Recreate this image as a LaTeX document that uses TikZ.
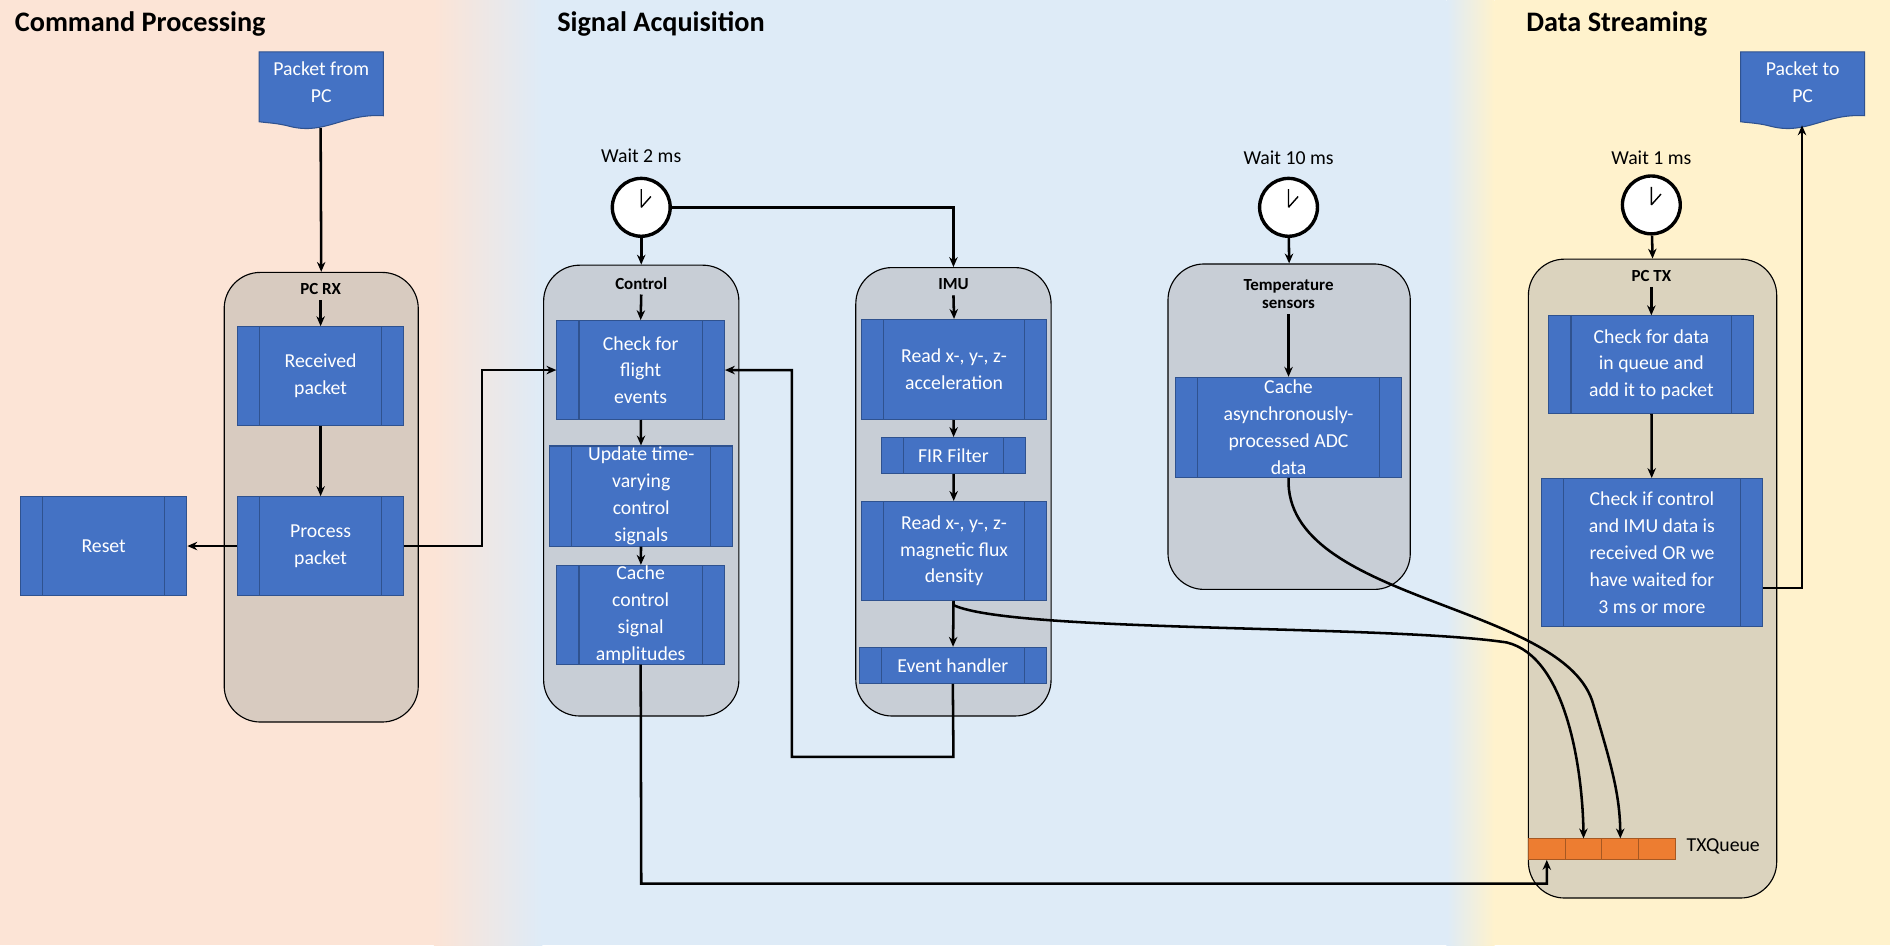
\documentclass[tikz,border=0pt]{standalone}
\usepackage{fontspec}
\setmainfont{Carlito}
\usetikzlibrary{arrows.meta}
\definecolor{peach}{RGB}{252,228,214}
\definecolor{paleblue}{RGB}{222,235,247}
\definecolor{paleyellow}{RGB}{255,242,204}
\definecolor{boxblue}{RGB}{68,114,196}
\definecolor{boxedge}{RGB}{47,82,143}
\definecolor{rxfill}{RGB}{216,203,192}
\definecolor{sigfill}{RGB}{200,206,214}
\definecolor{txfill}{RGB}{219,211,190}
\definecolor{qorange}{RGB}{237,125,49}
\tikzset{every picture/.style={line width=0.75pt}}

\begin{document}
\begin{tikzpicture}[x=0.03cm,y=-0.03cm,
    proc/.style={rectangle,fill=boxblue,draw=boxedge,text=white,align=center,
        font=\fontsize{14}{19}\selectfont,inner sep=0pt,
        path picture={\draw[boxedge]
            ([xshift=0.55cm]path picture bounding box.north west) -- ([xshift=0.55cm]path picture bounding box.south west)
            ([xshift=-0.55cm]path picture bounding box.north east) -- ([xshift=-0.55cm]path picture bounding box.south east);}},
    group/.style={rectangle,rounded corners=0.9cm,draw=black,line width=0.8pt},
    gtitle/.style={font=\bfseries\fontsize{12}{15}\selectfont,align=center},
    title/.style={font=\bfseries\fontsize{20}{24}\selectfont,anchor=west},
    wait/.style={font=\fontsize{14}{17}\selectfont},
    clock/.style={circle,draw=black,line width=2.4pt,fill=white,minimum size=1.44cm,inner sep=0pt},
    doc/.style={fill=boxblue,draw=boxedge},
    flow/.style={-{Stealth[length=7pt,width=6pt]},line width=1.8pt},
    cell/.style={rectangle,fill=qorange,draw=qorange!70!black,minimum width=0.915cm,minimum height=0.51cm,inner sep=0pt}]

    % background
    \fill[peach] (0,0) rectangle (360,784);
    \shade[left color=peach,right color=paleblue] (360,0) rectangle (450,784);
    \fill[paleblue] (450,0) rectangle (1200,784);
    \shade[left color=paleblue,right color=paleyellow] (1200,0) rectangle (1240,784);
    \fill[paleyellow] (1240,0) rectangle (1568,784);
    \useasboundingbox (0,0) rectangle (1568,784);

    \node[title] at (8,20) {Command Processing};
    \node[title] at (458,20) {Signal Acquisition};
    \node[title] at (1262,20) {Data Streaming};

    % containers
    \node[group,fill=rxfill,minimum width=4.83cm,minimum height=11.19cm] (rx) at (266.5,412.5) {};
    \node[group,fill=sigfill,minimum width=4.86cm,minimum height=11.22cm] (ctl) at (532,407) {};
    \node[group,fill=sigfill,minimum width=4.86cm,minimum height=11.16cm] (imu) at (791,408) {};
    \node[group,fill=sigfill,minimum width=6.03cm,minimum height=8.1cm] (temp) at (1069.5,354) {};
    \node[group,fill=txfill,minimum width=6.18cm,minimum height=15.9cm] (tx) at (1371,480) {};

    \node[gtitle] (rxt) at (266,240) {PC RX};
    \node[gtitle] (ctlt) at (532,235) {Control};
    \node[gtitle] (imut) at (791,236) {IMU};
    \node[gtitle] (tempt) at (1069,244) {Temperature\\[-2pt]sensors};
    \node[gtitle] (txt) at (1370,229) {PC TX};

    % documents
    \fill[doc] (215,43) -- (318,43) -- (318,96) .. controls (285,94) and (270,112) .. (241,105) .. controls (230,102) and (222,102) .. (215,101) -- cycle;
    \node[text=white,align=center,font=\fontsize{14}{19}\selectfont] (pcin) at (266.5,68) {Packet from\\PC};
    \coordinate (pcinb) at (266,106);
    \fill[doc] (1444,43) -- (1547,43) -- (1547,96) .. controls (1514,94) and (1499,112) .. (1470,105) .. controls (1459,102) and (1451,102) .. (1444,101) -- cycle;
    \node[text=white,align=center,font=\fontsize{14}{19}\selectfont] (pcout) at (1495.5,68) {Packet to\\PC};
    \coordinate (pcoutb) at (1495,104);

    % boxes
    \node[proc,minimum width=4.14cm,minimum height=2.46cm] (recv) at (266,312) {Received\\packet};
    \node[proc,minimum width=4.14cm,minimum height=2.46cm] (procp) at (266,453) {Process\\packet};
    \node[proc,minimum width=4.14cm,minimum height=2.46cm] (reset) at (86,453) {Reset};

    \node[proc,minimum width=4.17cm,minimum height=2.46cm] (check) at (531.5,307) {Check for\\flight\\events};
    \node[proc,minimum width=4.56cm,minimum height=2.49cm] (update) at (532,411.5) {Update time-\\varying\\control\\signals};
    \node[proc,minimum width=4.17cm,minimum height=2.46cm] (cache) at (531.5,510) {Cache\\control\\signal\\amplitudes};

    \node[proc,minimum width=4.59cm,minimum height=2.49cm] (acc) at (791.5,306.5) {Read x-, y-, z-\\acceleration};
    \node[proc,minimum width=3.6cm,minimum height=0.9cm] (fir) at (791,378) {FIR Filter};
    \node[proc,minimum width=4.59cm,minimum height=2.46cm] (mag) at (791.5,457) {Read x-, y-, z-\\magnetic flux\\density};
    \node[proc,minimum width=4.65cm,minimum height=0.9cm] (evt) at (790.5,552) {Event handler};

    \node[proc,minimum width=5.64cm,minimum height=2.49cm] (adc) at (1069,354.5) {Cache\\asynchronously-\\processed ADC\\data};

    \node[proc,minimum width=5.1cm,minimum height=2.43cm] (qchk) at (1370,302.5) {Check for data\\in queue and\\add it to packet};
    \node[proc,minimum width=5.49cm,minimum height=3.69cm] (ready) at (1370.5,458.5) {Check if control\\and IMU data is\\received OR we\\have waited for\\3 ms or more};

    % queue
    \node[cell] (q1) at (1283.25,704.5) {};
    \node[cell] (q2) at (1313.75,704.5) {};
    \node[cell] (q3) at (1344.25,704.5) {};
    \node[cell] (q4) at (1374.75,704.5) {};
    \node[anchor=west,font=\fontsize{14}{17}\selectfont] (txq) at (1395,702) {TXQueue};

    % clocks
    \foreach \name/\cx/\cy/\lbl/\ly in {c2/532/172/Wait 2 ms/129, c10/1069/172/Wait 10 ms/131, c1/1370/170/Wait 1 ms/131} {
        \node[clock] (\name) at (\cx,\cy) {};
        \draw[line width=1pt] (\name.center) -- ++(0,-15) (\name.center) -- ++(8,-9);
        \node[wait] at (\cx,\ly) {\lbl};
    }

    % connectors
    \draw[flow] (pcinb) -- (rx.north);
    \draw[flow] (rxt.south) -- (recv.north);
    \draw[flow] (recv) -- (procp);
    \draw[flow] (procp) -- (reset);
    \draw[flow] (procp.east) -- (400,453) |- (check.west);

    \draw[flow] (c2) -- (ctl.north);
    \draw[flow] (c2.east) -| (imu.north);
    \draw[flow] (ctlt.south) -- (check.north);
    \draw[flow] (check) -- (update);
    \draw[flow] (update) -- (cache);

    \draw[flow] (imut.south) -- (acc.north);
    \draw[flow] (acc) -- (fir);
    \draw[flow] (fir) -- (mag);
    \draw[flow] (mag) -- (evt);
    \draw[flow] (evt.south) -- (791,628) -| (657,400) |- (check.east);

    \draw[flow] (c10) -- (temp.north);
    \draw[flow] (tempt.south) -- (adc.north);

    \draw[flow] (c1) -- (tx.north);
    \draw[flow] (txt.south) -- (qchk.north);
    \draw[flow] (qchk) -- (ready);
    \draw[flow] (ready.east |- 0,488) -- (1495,488) -- (pcoutb);

    \draw[flow] (cache.south) -- (532,733) -| (q1.south);
    \draw[flow] (791,502) .. controls (840,525) and (1150,518) .. (1250,533) .. controls (1300,545) and (1313,640) .. (q2.north);
    \draw[flow] (adc.south) .. controls (1065,500) and (1300,500) .. (1322,585) .. controls (1337,635) and (1344,660) .. (q3.north);
\end{tikzpicture}
\end{document}
